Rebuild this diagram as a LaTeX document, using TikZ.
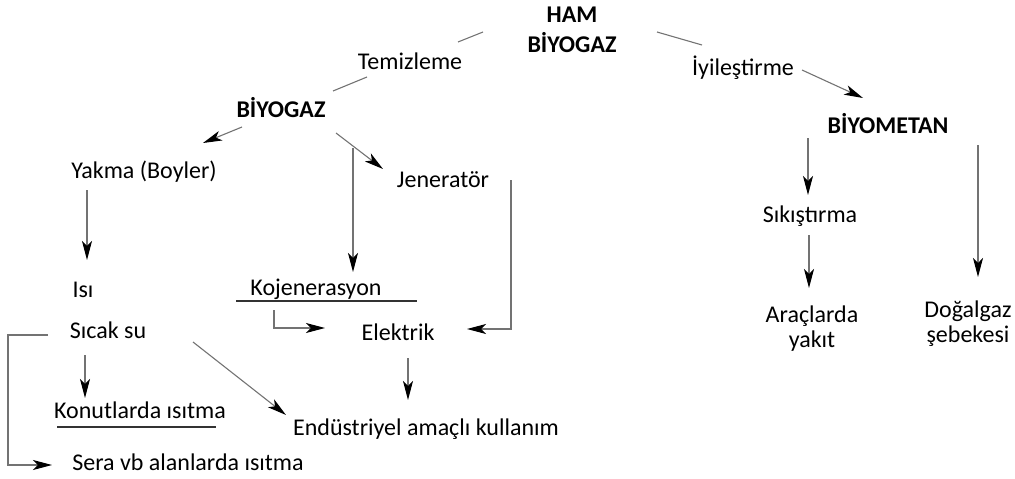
\documentclass[tikz,border=0pt]{standalone}
\usepackage{fontspec}
\setmainfont{Carlito}
\usetikzlibrary{calc,arrows.meta}

\begin{document}
\begin{tikzpicture}[x=1pt,y=-1pt,>={Stealth[length=19pt,width=10pt,inset=5pt,black]},
  lbl/.style={anchor=base,inner sep=0pt,font=\fontsize{24}{29}\selectfont},
  hd/.style={lbl,font=\fontsize{24}{29}\selectfont\bfseries},
  link/.style={draw=black!55,line width=1.1pt},
  flow/.style={link,->},
  uline/.style={draw=black!80,line width=1.8pt}]
  \useasboundingbox (0,0) rectangle (1015,479);
  % top level (base of a two-line node is its last line)
  \node[hd,align=center] (ham) at (572,52) {HAM\\BİYOGAZ};
  \node[lbl] (temizleme) at (410,69) {Temizleme};
  \node[lbl] (iyilestirme) at (743,75) {İyileştirme};
  \node[hd] (biyogaz) at (281,117) {BİYOGAZ};
  \node[hd] (biyometan) at (888,133) {BİYOMETAN};
  % biyogaz branch
  \node[lbl] (yakma) at (144,178) {Yakma (Boyler)};
  \node[lbl] (jenerator) at (443,187) {Jeneratör};
  \node[lbl] (isi) at (83,297) {Isı};
  \node[lbl] (kojen) at (316,295) {Kojenerasyon};
  \node[lbl] (sicak) at (108,338) {Sıcak su};
  \node[lbl] (elektrik) at (398,340) {Elektrik};
  \node[lbl] (konut) at (140,418) {Konutlarda ısıtma};
  \node[lbl] (endustri) at (426,435) {Endüstriyel amaçlı kullanım};
  \node[lbl] (sera) at (188,470) {Sera vb alanlarda ısıtma};
  % biyometan branch
  \node[lbl] (sikistirma) at (810,222) {Sıkıştırma};
  \node[lbl,align=center,font=\fontsize{24}{25}\selectfont] (arac) at (812,347) {Araçlarda\\yakıt};
  \node[lbl,align=center,font=\fontsize{24}{25}\selectfont] (dogal) at (968,342) {Doğalgaz\\şebekesi};
  % underlines
  \draw[uline] ($(kojen.base)+(-80,6)$) -- ($(kojen.base)+(101,6)$);
  \draw[uline] ($(konut.base)+(-83,9)$) -- ($(konut.base)+(76,9)$);
  % connectors
  \draw[link] ($(temizleme.base)+(48,-27)$) -- ($(ham.base)+(-89,-20)$);
  \draw[link] ($(ham.base)+(85,-20)$) -- ($(iyilestirme.base)+(-41,-30)$);
  \draw[flow] ($(iyilestirme.base)+(59,-5)$) -- ($(biyometan.base)+(-25,-35)$);
  \draw[link] ($(biyogaz.base)+(52,-26)$) -- ($(temizleme.base)+(-43,8)$);
  \draw[flow] ($(biyogaz.base)+(-39,10)$) -- ($(yakma.base)+(59,-35)$);
  \draw[flow] ($(biyogaz.base)+(55,16)$) -- ($(jenerator.base)+(-60,-18)$);
  \draw[flow] ($(biyogaz.base)+(72,31)$) -- ($(kojen.base)+(37,-23)$);
  \draw[flow] ($(jenerator.base)+(68,-7)$) |- ($(elektrik.base)+(69,-11)$);
  \draw[flow] ($(kojen.base)+(-42,15)$) |- ($(elektrik.base)+(-73,-12)$);
  \draw[flow] ($(yakma.base)+(-57,12)$) -- ($(isi.base)+(4,-37)$);
  \draw[flow] ($(elektrik.base)+(10,18)$) -- ($(endustri.base)+(-18,-35)$);
  \draw[flow] ($(sicak.base)+(85,4)$) -- ($(endustri.base)+(-140,-20)$);
  \draw[flow] ($(sicak.base)+(-23,17)$) -- ($(konut.base)+(-55,-20)$);
  \draw[flow] ($(sicak.base)+(-60,-3)$) -- ++(-40,0) |- ($(sera.base)+(-136,-5)$);
  \draw[flow] ($(biyometan.base)+(-80,5)$) -- ($(sikistirma.base)+(-2,-27)$);
  \draw[flow] ($(sikistirma.base)+(-1,13)$) -- ($(arac.base)+(-3,-59)$);
  \draw[flow] ($(biyometan.base)+(90,12)$) -- ($(dogal.base)+(10,-65)$);
\end{tikzpicture}
\end{document}
